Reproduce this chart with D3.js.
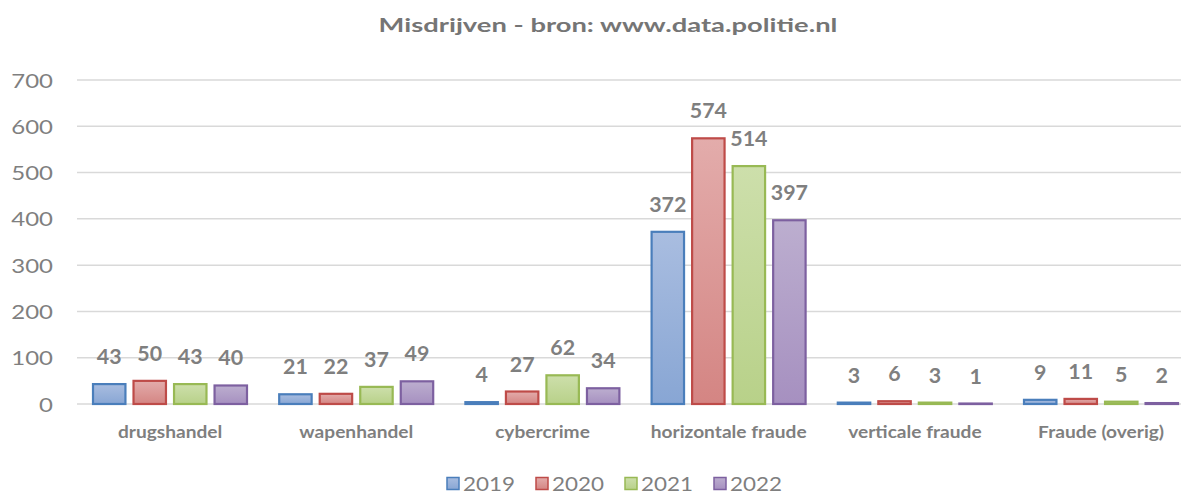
<!DOCTYPE html>
<html>
<head>
<meta charset="utf-8">
<script src="https://cdn.jsdelivr.net/npm/d3@7"></script>
<style>
  html, body { margin: 0; padding: 0; background: #fff; }
  svg { display: block; font-family: Lato, "Open Sans", sans-serif; }
</style>
</head>
<body>
<svg id="chart" width="1181" height="495"></svg>
<script>
const title = "Misdrijven - bron: www.data.politie.nl";
const categories = ["drugshandel", "wapenhandel", "cybercrime", "horizontale fraude", "verticale fraude", "Fraude (overig)"];
const seriesNames = ["2019", "2020", "2021", "2022"];
const values2019 = [43, 21, 4, 372, 3, 9];
const values2020 = [50, 22, 27, 574, 6, 11];
const values2021 = [43, 37, 62, 514, 3, 5];
const values2022 = [40, 49, 34, 397, 1, 2];
const yTicks = [0, 100, 200, 300, 400, 500, 600, 700];

const seriesValues = [values2019, values2020, values2021, values2022];
const colors = [
  { top: "#a9bde0", bottom: "#88a6d4", stroke: "#4a7ebb" },
  { top: "#e3acab", bottom: "#d48583", stroke: "#be4b48" },
  { top: "#cddfab", bottom: "#b8d189", stroke: "#98b954" },
  { top: "#bcaecf", bottom: "#a690c0", stroke: "#7d60a0" }
];

const svg = d3.select("#chart");
const W = 1181, H = 495;
const left = 77, bandW = 186.2;
const y = d3.scaleLinear().domain([0, 700]).range([404, 80]);
const x0 = d3.scaleBand().domain(categories).range([left, left + bandW * categories.length]).padding(0);
const x1 = d3.scaleBand().domain(seriesNames).range([15, 171]).paddingInner(0.15).paddingOuter(0);

const defs = svg.append("defs");
colors.forEach((c, i) => {
  const g = defs.append("linearGradient").attr("id", "grad" + i)
    .attr("x1", 0).attr("y1", 0).attr("x2", 0).attr("y2", 1);
  g.append("stop").attr("offset", "0%").attr("stop-color", c.top);
  g.append("stop").attr("offset", "100%").attr("stop-color", c.bottom);
});

// Title
svg.append("text").attr("transform", "translate(608,32) scale(1.44,1)").attr("text-anchor", "middle")
  .attr("font-size", 19).attr("font-weight", "bold").attr("fill", "#757575")
  .text(title);

// Gridlines
svg.append("g").selectAll("line").data(yTicks).join("line")
  .attr("x1", left).attr("x2", W)
  .attr("y1", d => y(d)).attr("y2", d => y(d))
  .attr("stroke", "#d9d9d9").attr("stroke-width", 1.5);

// Y axis labels
const yAxis = d3.axisLeft(y).tickValues(yTicks).tickSize(0).tickPadding(0);
const ya = svg.append("g").attr("transform", "translate(53,0)").call(yAxis);
ya.select(".domain").remove();
ya.selectAll("text").attr("font-size", 20).attr("fill", "#7f7f7f").attr("font-family", "Lato, sans-serif")
  .attr("dy", "0.35em").attr("transform", "scale(1.2,1)");

// Bars
const groups = svg.append("g").selectAll("g").data(categories).join("g")
  .attr("transform", d => `translate(${x0(d)},0)`);

groups.each(function(cat, ci) {
  const g = d3.select(this);
  seriesNames.forEach((s, si) => {
    const v = seriesValues[si][ci];
    const bx = x1(s), bw = x1.bandwidth();
    const top = y(v);
    g.append("rect")
      .attr("x", bx + 1).attr("y", top)
      .attr("width", bw - 2).attr("height", Math.max(0.5, y(0) - top))
      .attr("fill", `url(#grad${si})`)
      .attr("stroke", colors[si].stroke).attr("stroke-width", 2.2);
    g.append("text")
      .attr("transform", `translate(${bx + bw / 2},${top - 20}) scale(1.07,1)`)
      .attr("text-anchor", "middle").attr("font-size", 20).attr("font-weight", "bold")
      .attr("fill", "#7f7f7f").text(v);
  });
});

// Category axis labels
const xAxis = d3.axisBottom(x0).tickSize(0).tickPadding(0);
const xa = svg.append("g").attr("transform", "translate(0,432)").call(xAxis);
xa.select(".domain").remove();
xa.selectAll("text").attr("font-size", 16.5).attr("font-weight", "bold").attr("fill", "#7f7f7f")
  .attr("font-family", "Lato, sans-serif").attr("dy", "0.35em").attr("transform", "scale(1.16,1)");

// Legend
const legendX = d3.scalePoint().domain(seriesNames).range([447, 714]);
const lg = svg.append("g").selectAll("g").data(seriesNames).join("g")
  .attr("transform", d => `translate(${legendX(d)},477.5)`);
lg.append("rect").attr("x", 0).attr("y", 0).attr("width", 12).attr("height", 12)
  .attr("fill", (d, i) => `url(#grad${i})`).attr("stroke", (d, i) => colors[i].stroke).attr("stroke-width", 1.5);
lg.append("text").attr("transform", "translate(16,13) scale(1.15,1)").attr("font-size", 19.5).attr("fill", "#7f7f7f").text(d => d);
</script>
</body>
</html>
